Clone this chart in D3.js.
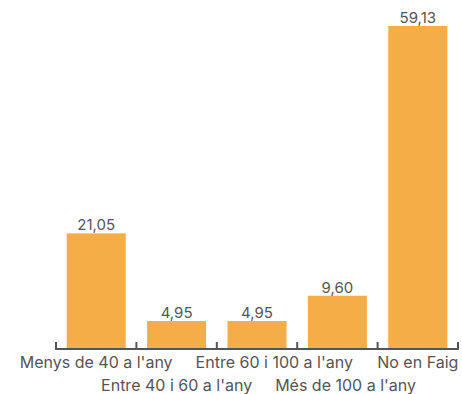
<!DOCTYPE html>
<html><head><meta charset="utf-8">
<script src="https://cdn.jsdelivr.net/npm/d3@7"></script>
<style>body{margin:0;background:#fff}svg{display:block}</style>
</head><body>
<script>
const categories = ["Menys de 40 a l'any","Entre 40 i 60 a l'any","Entre 60 i 100 a l'any","Més de 100 a l'any","No en Faig"];
const values = [21.05, 4.95, 4.95, 9.60, 59.13];
const valueLabels = ["21,05","4,95","4,95","9,60","59,13"];

const W = 462, H = 394;
const svg = d3.select("body").append("svg").attr("width", W).attr("height", H);
const x = d3.scaleBand().domain(categories).range([56, 458]).paddingInner(0.266).paddingOuter(0.133);
const y = d3.scaleLinear().domain([0, 59.13]).range([348, 26]);
const font = "Inter, 'Noto Sans', sans-serif";

svg.selectAll("rect.bar").data(values).join("rect")
  .attr("x", (d,i) => x(categories[i])).attr("width", x.bandwidth())
  .attr("y", d => y(d)).attr("height", d => y(0) - y(d))
  .attr("fill", "#F5AD47");

svg.selectAll("text.val").data(values).join("text")
  .attr("x", (d,i) => x(categories[i]) + x.bandwidth()/2)
  .attr("y", d => y(d) - 3)
  .attr("text-anchor", "middle").attr("font-family", font).attr("font-size", 15)
  .attr("fill", "#555").text((d,i) => valueLabels[i]);

// axis line and ticks at band boundaries
const bounds = d3.range(categories.length + 1).map(i => 56 + i * x.step());
const g = svg.append("g");
g.append("line").attr("x1", 55).attr("x2", 459).attr("y1", 349).attr("y2", 349)
  .attr("stroke", "#555").attr("stroke-width", 2);
g.selectAll("line.tick").data(bounds).join("line")
  .attr("x1", d => d).attr("x2", d => d).attr("y1", 342).attr("y2", 349)
  .attr("stroke", "#555").attr("stroke-width", 2);

const labels = svg.selectAll("text.cat").data(categories).join("text")
  .attr("x", d => x(d) + x.bandwidth()/2)
  .attr("y", (d,i) => i % 2 === 0 ? 368 : 391)
  .attr("text-anchor", "middle").attr("font-family", font).attr("font-size", 16)
  .attr("fill", "#555").text(d => d);

// push overlapping same-row labels to the right
const lastEnd = {};
labels.each(function(d, i) {
  const row = i % 2;
  const w = this.getComputedTextLength();
  let cx = x(d) + x.bandwidth()/2;
  if (lastEnd[row] !== undefined && cx - w/2 < lastEnd[row] + 23 && i < categories.length - 1) {
    cx = lastEnd[row] + 23 + w/2;
    d3.select(this).attr("x", cx);
  }
  lastEnd[row] = cx + w/2;
});
</script>
</body></html>
